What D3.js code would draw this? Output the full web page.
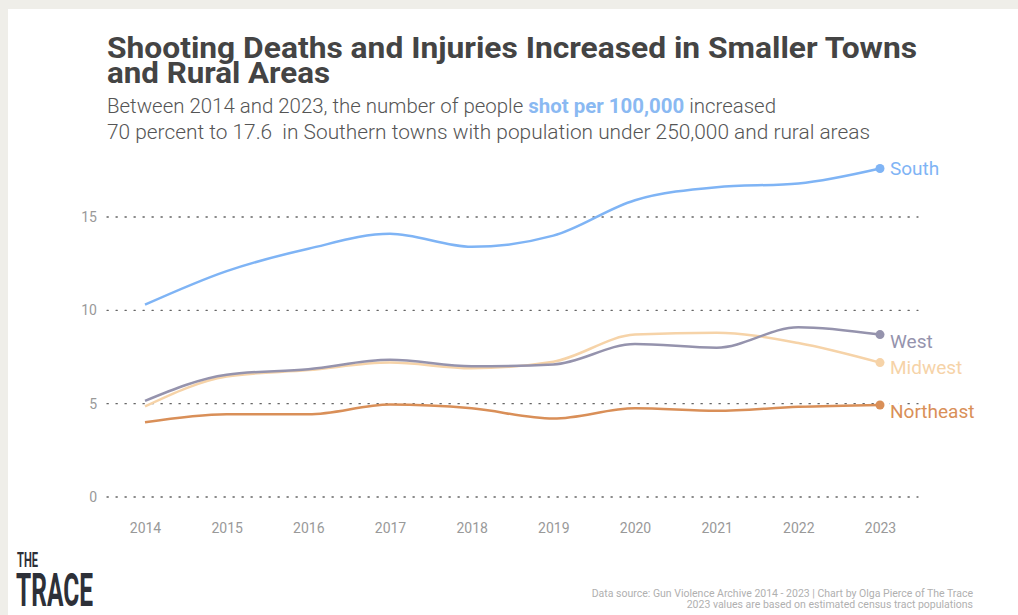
<!DOCTYPE html>
<html>
<head>
<meta charset="utf-8">
<script src="https://cdn.jsdelivr.net/npm/d3@7"></script>
<style>
  html, body { margin: 0; padding: 0; background: #efeee9; }
  svg { display: block; }
  text { font-family: Roboto, "Noto Sans", sans-serif; }
</style>
</head>
<body>
<svg id="chart"></svg>
<script>
// DATA
var years = [2014, 2015, 2016, 2017, 2018, 2019, 2020, 2021, 2022, 2023];
var south     = [10.3, 12.1, 13.3, 14.1, 13.4, 14.0, 15.9, 16.6, 16.8, 17.6];
var west      = [5.15, 6.55, 6.85, 7.35, 7.0, 7.1, 8.2, 8.0, 9.1, 8.7];
var midwest   = [4.85, 6.45, 6.8, 7.2, 6.9, 7.25, 8.7, 8.8, 8.25, 7.2];
var northeast = [4.0, 4.43, 4.43, 4.95, 4.75, 4.2, 4.75, 4.62, 4.83, 4.93];
var seriesNames = ["Midwest", "West", "South", "Northeast"];
var yTicks = [0, 5, 10, 15];

var W = 1018, H = 615;
var colors = { South: "#7fb4f5", West: "#9593ad", Midwest: "#f6d3a8", Northeast: "#d98f58" };
var values = { South: south, West: west, Midwest: midwest, Northeast: northeast };
// label nudges so names don't collide
var labelDy = { South: 0, West: 7, Midwest: 5, Northeast: 6 };

var svg = d3.select("#chart").attr("width", W).attr("height", H);

// white card
svg.append("rect").attr("x", 8).attr("y", 9).attr("width", W - 8).attr("height", H - 9).attr("fill", "#fff");

// title (squeezed to look condensed)
var title = ["Shooting Deaths and Injuries Increased in Smaller Towns", "and Rural Areas"];
var titleLen = [810, 223];
title.forEach(function(t, i) {
  svg.append("text")
    .attr("x", 107).attr("y", 58 + i * 25)
    .attr("font-size", 29.5).attr("font-weight", 700)
    .attr("fill", "#444")
    .attr("textLength", titleLen[i]).attr("lengthAdjust", "spacingAndGlyphs")
    .text(t);
});

// subtitle
var sub1 = svg.append("text").attr("x", 107).attr("y", 113)
  .attr("font-size", 19.5).attr("font-weight", 300).attr("fill", "#555")
  .attr("textLength", 669).attr("lengthAdjust", "spacingAndGlyphs");
sub1.append("tspan").text("Between 2014 and 2023, the number of people ");
sub1.append("tspan").attr("font-weight", 700).attr("fill", "#8ab9f2").text("shot per 100,000");
sub1.append("tspan").text(" increased");

svg.append("text").attr("x", 107).attr("y", 139)
  .attr("font-size", 19.5).attr("font-weight", 300).attr("fill", "#555")
  .attr("textLength", 763).attr("lengthAdjust", "spacingAndGlyphs")
  .style("white-space", "pre")
  .text("70 percent to 17.6  in Southern towns with population under 250,000 and rural areas");

// scales
var x = d3.scaleLinear().domain([2014, 2023]).range([145, 880]);
var y = d3.scaleLinear().domain([0, 15]).range([497, 217]);

// grid
var grid = svg.append("g");
grid.selectAll("line").data(yTicks).enter().append("line")
  .attr("x1", 107).attr("x2", 918)
  .attr("y1", function(d) { return y(d); }).attr("y2", function(d) { return y(d); })
  .attr("stroke", "#666").attr("stroke-width", 1.3)
  .attr("stroke-dasharray", "1.3,7.7").attr("stroke-linecap", "round");

grid.selectAll("text").data(yTicks).enter().append("text")
  .attr("x", 97).attr("y", function(d) { return y(d); }).attr("dy", "0.35em")
  .attr("text-anchor", "end").attr("font-size", 14).attr("fill", "#999")
  .text(function(d) { return d; });

// x axis
var xAxis = svg.append("g").attr("transform", "translate(0,528)")
  .call(d3.axisBottom(x).tickValues(years).tickFormat(d3.format("d")).tickSize(0));
xAxis.select(".domain").remove();
xAxis.selectAll("text").attr("font-size", 14).attr("fill", "#999")
  .attr("font-family", "Roboto, sans-serif").attr("dy", "0.35em").attr("y", 0);

// lines
var line = d3.line()
  .x(function(d, i) { return x(years[i]); })
  .y(function(d) { return y(d); })
  .curve(d3.curveMonotoneX);

seriesNames.forEach(function(name) {
  var vals = values[name];
  var last = vals[vals.length - 1];
  svg.append("path")
    .datum(vals)
    .attr("d", line)
    .attr("fill", "none")
    .attr("stroke", colors[name])
    .attr("stroke-width", 2.5)
    .attr("stroke-linejoin", "round");
  svg.append("circle")
    .attr("cx", x(2023)).attr("cy", y(last)).attr("r", 4.5)
    .attr("fill", colors[name]);
  svg.append("text")
    .attr("x", x(2023) + 10).attr("y", y(last) + labelDy[name]).attr("dy", "0.35em")
    .attr("font-size", 19).attr("fill", colors[name])
    .attr("stroke", "#fff").attr("stroke-width", 4).attr("paint-order", "stroke")
    .text(name);
});

// footer
svg.append("text").attr("x", 973).attr("y", 597).attr("text-anchor", "end")
  .attr("font-size", 10.5).attr("fill", "#b0b0b0")
  .text("Data source: Gun Violence Archive 2014 - 2023 | Chart by Olga Pierce of The Trace");
svg.append("text").attr("x", 973).attr("y", 608).attr("text-anchor", "end")
  .attr("font-size", 10.5).attr("fill", "#b0b0b0")
  .text("2023 values are based on estimated census tract populations");

// logo
svg.append("text").attr("x", 17).attr("y", 567)
  .attr("font-size", 20).attr("font-weight", 700).attr("fill", "#2d3038")
  .attr("textLength", 21).attr("lengthAdjust", "spacingAndGlyphs").text("THE");
svg.append("text").attr("x", 16).attr("y", 606)
  .attr("font-size", 47).attr("font-weight", 700).attr("fill", "#2d3038")
  .attr("textLength", 77).attr("lengthAdjust", "spacingAndGlyphs").text("TRACE");
</script>
</body>
</html>
